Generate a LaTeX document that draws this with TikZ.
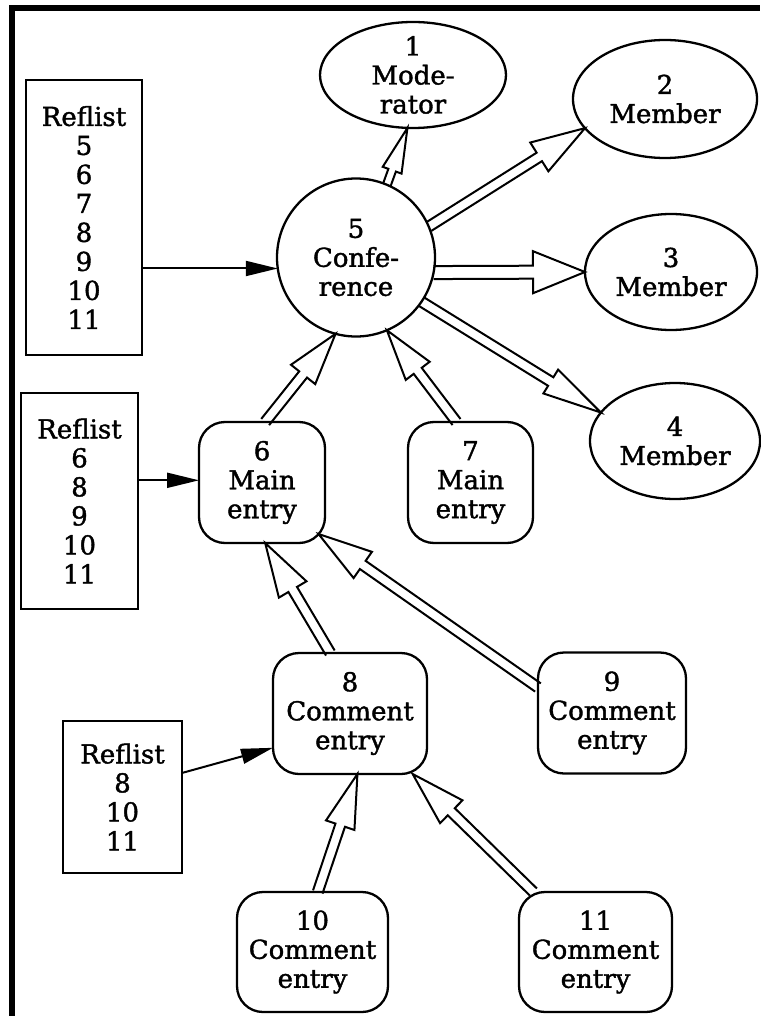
\documentclass[tikz,border=0pt]{standalone}
\usepackage{fontspec}
\setmainfont{DejaVu Serif}[UprightFeatures={FakeBold=1.5}]
\usetikzlibrary{shapes.geometric,calc,arrows.meta}

\tikzset{
  lbl/.style={draw, line width=2.3pt, font=\fontsize{26}{29}\selectfont,
    align=center, inner sep=0pt, outer sep=0pt},
  oval/.style={lbl, ellipse, inner ysep=-20pt, inner xsep=-8pt},
  conf/.style={lbl, circle, minimum size=158pt, inner sep=-8pt},
  entry/.style={lbl, rectangle, rounded corners=26pt, minimum height=121pt},
  reflist/.style={lbl, rectangle},
  hollow/.style={draw, line width=2pt, miter limit=20},
  refarrow/.style={draw, line width=2pt, -{Triangle[length=32pt,width=15pt]}},
}

% open "double" arrow: start, tip, shaft half-width, head half-width, head length
\newcommand\hollowarrow[5]{%
  \coordinate (ha-b) at ($(#2)!#5!(#1)$);
  \draw[hollow] ($(#1)!#3!-90:(#2)$) -- ($(ha-b)!#3!90:(#1)$)
    -- ($(ha-b)!#4!90:(#1)$) -- (#2) -- ($(ha-b)!#4!-90:(#1)$)
    -- ($(ha-b)!#3!-90:(#1)$) -- ($(#1)!#3!90:(#2)$);
}

\begin{document}
\begin{tikzpicture}[x=1pt,y=-1pt]
\useasboundingbox (0,0) rectangle (760,1016);
\fill[white] (0,0) rectangle (760,1016);

% frame
\draw[line width=6pt] (12,1016) -- (12,8) -- (760,8);

% conference and its members
\node[conf] (c5) at (356,257.5) {5\\Confe-\\rence};
\node[oval, minimum width=186pt, minimum height=106pt] (e1) at (413,75) {1\\Mode-\\rator};
\node[oval, minimum width=184pt, minimum height=118pt] (e2) at (665,99) {2\\Member};
\node[oval, minimum width=172pt, minimum height=116pt] (e3) at (671,272) {3\\Member};
\node[oval, minimum width=170pt, minimum height=116pt] (e4) at (675,441) {4\\Member};

% entries
\node[entry, minimum width=126pt] (n6) at (262,482.5) {6\\Main\\entry};
\node[entry, minimum width=125pt] (n7) at (470.5,482.5) {7\\Main\\entry};
\node[entry, minimum width=154pt] (n8) at (350,713.5) {8\\Comment\\entry};
\node[entry, minimum width=148pt] (n9) at (612,713) {9\\Comment\\entry};
\node[entry, minimum width=151pt, minimum height=120pt] (n10) at (312.5,952) {10\\Comment\\entry};
\node[entry, minimum width=153pt, minimum height=120pt] (n11) at (595.5,952) {11\\Comment\\entry};

% reference lists
\node[reflist, minimum width=116pt, minimum height=275pt] (r1) at (84,217.5)
  {Reflist\\5\\6\\7\\8\\9\\10\\11};
\node[reflist, minimum width=117pt, minimum height=216pt] (r2) at (79.5,501)
  {Reflist\\6\\8\\9\\10\\11};
\node[reflist, minimum width=119pt, minimum height=152pt] (r3) at (122.5,797)
  {Reflist\\8\\10\\11};

% membership and comment links
\hollowarrow{c5.67}{e1.264}{4pt}{10pt}{45pt}
\hollowarrow{c5.23}{e2.200}{5pt}{17pt}{54pt}
\hollowarrow{c5.349}{e3.180}{6.5pt}{21pt}{52pt}
\hollowarrow{c5.326}{e4.159}{5pt}{14pt}{59pt}
\hollowarrow{n6.87}{c5.255}{5pt}{15.5pt}{52pt}
\hollowarrow{n7.103}{c5.293}{5pt}{15pt}{51pt}
\hollowarrow{n8.108}{n6.273}{5pt}{16pt}{54pt}
\coordinate (n6c) at ($(n6.south east)+(-6.5pt,9pt)$);
\hollowarrow{n9.161}{n6c}{5pt}{16pt}{54pt}
\hollowarrow{n10.85}{n8.277}{5pt}{15pt}{54pt}
\hollowarrow{n11.136}{n8.316}{5pt}{16pt}{54pt}

% reference list pointers
\draw[refarrow] (c5.188 -| r1.east) -- (c5.188);
\draw[refarrow] (n6.178 -| r2.east) -- (n6.178);
\draw[refarrow] (r3.22) -- (n8.204);
\end{tikzpicture}
\end{document}
